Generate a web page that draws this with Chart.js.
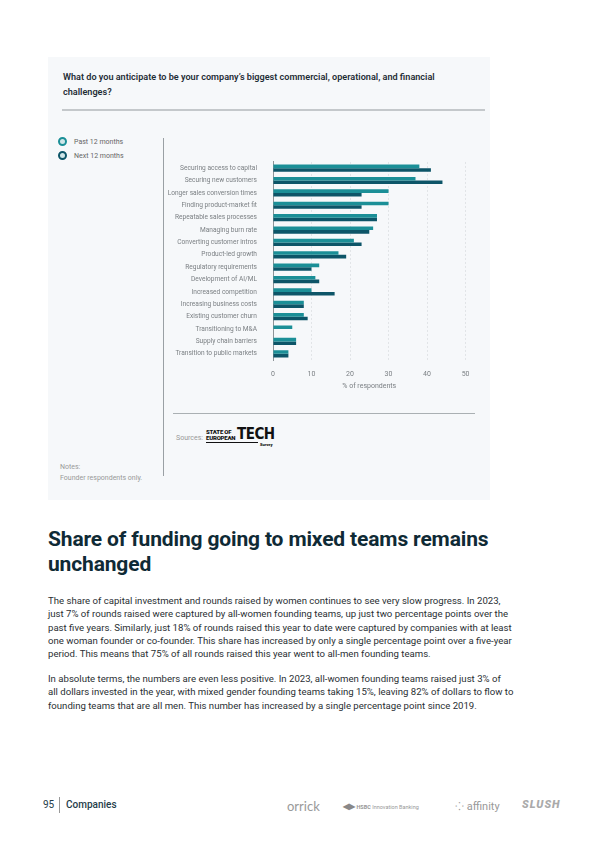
<!DOCTYPE html>
<html>
<head>
<meta charset="utf-8">
<script src="https://cdn.jsdelivr.net/npm/chart.js@4"></script>
<style>
  body { margin: 0; width: 600px; height: 848px; background: #fff; font-family: Roboto, sans-serif; position: relative; overflow: hidden; }
  .panel { position: absolute; left: 48px; top: 57px; width: 442px; height: 443px; background: #f6f8fa; }
  .q { position: absolute; left: 63px; top: 70px; font-size: 9.1px; font-weight: 600; color: #1f2d36; line-height: 14.5px; }
  .rule { position: absolute; background: #c4c8cb; height: 1.5px; }
  .vline { position: absolute; left: 163px; top: 138px; width: 1px; height: 338px; background: #9aa0a4; }
  .legend { position: absolute; left: 58px; font-size: 7px; color: #666; }
  .legend i { display: inline-block; width: 5px; height: 5px; border-radius: 50%; border: 2px solid; background: #cfe6e8; vertical-align: -2px; margin-right: 7px; }
  #wrap { position: absolute; left: 165px; top: 150px; width: 315px; height: 246px; }
  .src { position: absolute; left: 176px; top: 434px; font-size: 7px; color: #999; }
  .logo { position: absolute; left: 206px; top: 428px; color: #111; font-weight: 900; }
  .notes { position: absolute; left: 60px; top: 462px; font-size: 7px; color: #999; line-height: 11px; }
  h1 { position: absolute; left: 48px; top: 527px; margin: 0; font-size: 21px; line-height: 25px; font-weight: 700; color: #0f2a35; letter-spacing: -0.15px; }
  .para { position: absolute; left: 48px; font-size: 9.6px; line-height: 13.3px; color: #2a2f33; }
  .foot { position: absolute; top: 799px; font-size: 10px; color: #555; }
</style>
</head>
<body>
<div class="panel"></div>
<div class="q">What do you anticipate to be your company’s biggest commercial, operational, and financial<br>challenges?</div>
<div class="rule" style="left:62px; top:109px; width:423px;"></div>
<div class="vline"></div>
<div class="legend" style="top:137px;"><i style="border-color:#1b8f97"></i>Past 12 months</div>
<div class="legend" style="top:151px;"><i style="border-color:#0d5568"></i>Next 12 months</div>
<div id="wrap"><canvas id="chart"></canvas></div>
<div class="rule" style="left:173px; top:413px; width:302px; height:1px; background:#aab0b3;"></div>
<div class="src">Sources:</div>
<div class="logo">
  <div style="position:absolute; left:0; top:1px; font-size:6px; line-height:6px; letter-spacing:-0.2px;">STATE OF<br>EUROPEAN</div>
  <div style="position:absolute; left:31px; top:-1px; font-size:15px; line-height:15px; font-family:'DejaVu Sans Condensed', sans-serif; letter-spacing:-0.5px;">TECH</div>
  <div style="position:absolute; left:0; top:14px; width:52px; height:1px; background:#111;"></div>
  <div style="position:absolute; left:54px; top:15px; font-size:4px; line-height:4px;">Survey</div>
</div>
<div class="notes">Notes:<br>Founder respondents only.</div>

<h1>Share of funding going to mixed teams remains<br>unchanged</h1>
<div class="para" style="top:594px;">The share of capital investment and rounds raised by women continues to see very slow progress. In 2023,<br>just 7% of rounds raised were captured by all-women founding teams, up just two percentage points over the<br>past five years. Similarly, just 18% of rounds raised this year to date were captured by companies with at least<br>one woman founder or co-founder. This share has increased by only a single percentage point over a five-year<br>period. This means that 75% of all rounds raised this year went to all-men founding teams.</div>
<div class="para" style="top:672px;">In absolute terms, the numbers are even less positive. In 2023, all-women founding teams raised just 3% of<br>all dollars invested in the year, with mixed gender founding teams taking 15%, leaving 82% of dollars to flow to<br>founding teams that are all men. This number has increased by a single percentage point since 2019.</div>

<div class="foot" style="left:43px; color:#1f3d4a;">95</div>
<div style="position:absolute; left:59px; top:797px; width:1px; height:16px; background:#999;"></div>
<div class="foot" style="left:66px; color:#1f3d4a; font-weight:500;">Companies</div>
<div class="foot" style="left:287px; top:798px; font-size:13px; color:#999; font-family:Lato, sans-serif;">orrick</div>
<div class="foot" style="left:343px; top:802px; font-size:5.5px; color:#999;"><b style="color:#888; font-size:8px;">◀▶</b> <b>HSBC</b> Innovation Banking</div>
<div class="foot" style="left:455px; top:798px; font-size:11px; color:#999;">⁘ affinity</div>
<div class="foot" style="left:522px; top:798px; font-size:11px; color:#aaa; font-weight:900; font-style:italic; letter-spacing:1px;">SLUSH</div>

<script>
// Survey categories and shares (% of respondents)
const categories = [
  'Securing access to capital', 'Securing new customers', 'Longer sales conversion times',
  'Finding product-market fit', 'Repeatable sales processes', 'Managing burn rate',
  'Converting customer intros', 'Product-led growth', 'Regulatory requirements',
  'Development of AI/ML', 'Increased competition', 'Increasing business costs',
  'Existing customer churn', 'Transitioning to M&A', 'Supply chain barriers',
  'Transition to public markets'
];
const past12 = [38, 37, 30, 30, 27, 26, 21, 17, 12, 11, 10, 8, 8, 5, 6, 4];
const next12 = [41, 44, 23, 23, 27, 25, 23, 19, 10, 12, 16, 8, 9, 0, 6, 4];
const xTicks = [0, 10, 20, 30, 40, 50];

const colors = {
    past: '#1b8f97',
    next: '#0d5568',
    label: '#7a7f83',
    grid: '#dcdfe2'
};

new Chart(document.getElementById('chart'), {
    type: 'bar',
    data: {
        labels: categories,
        datasets: [
            { label: 'Past 12 months', data: past12, backgroundColor: colors.past },
            { label: 'Next 12 months', data: next12, backgroundColor: colors.next }
        ]
    },
    options: {
        indexAxis: 'y',
        responsive: true,
        maintainAspectRatio: false,
        animation: false,
        layout: { padding: { top: 10, right: 2 } },
        datasets: { bar: { categoryPercentage: 0.58, barPercentage: 1 } },
        plugins: { legend: { display: false }, tooltip: { enabled: false } },
        scales: {
            x: {
                min: 0,
                max: 50,
                afterBuildTicks: (scale) => { scale.ticks = xTicks.map(v => ({ value: v })); },
                afterFit: (scale) => { scale.height = 36; },
                grid: { color: colors.grid, drawTicks: false, lineWidth: 0.8 },
                border: { display: false, dash: [2, 2] },
                ticks: { color: colors.label, font: { family: 'Roboto', size: 7 }, padding: 10.5 },
                title: { display: true, text: '% of respondents', color: colors.label, font: { family: 'Roboto', size: 7 }, padding: { top: 0, bottom: 6 } }
            },
            y: {
                afterFit: (scale) => { scale.width = 108; },
                grid: { display: false },
                border: { display: true, color: '#8e9498', width: 1 },
                ticks: { color: colors.label, font: { family: 'Roboto', size: 6.6 }, padding: 8 }
            }
        }
    }
});
</script>
</body>
</html>
